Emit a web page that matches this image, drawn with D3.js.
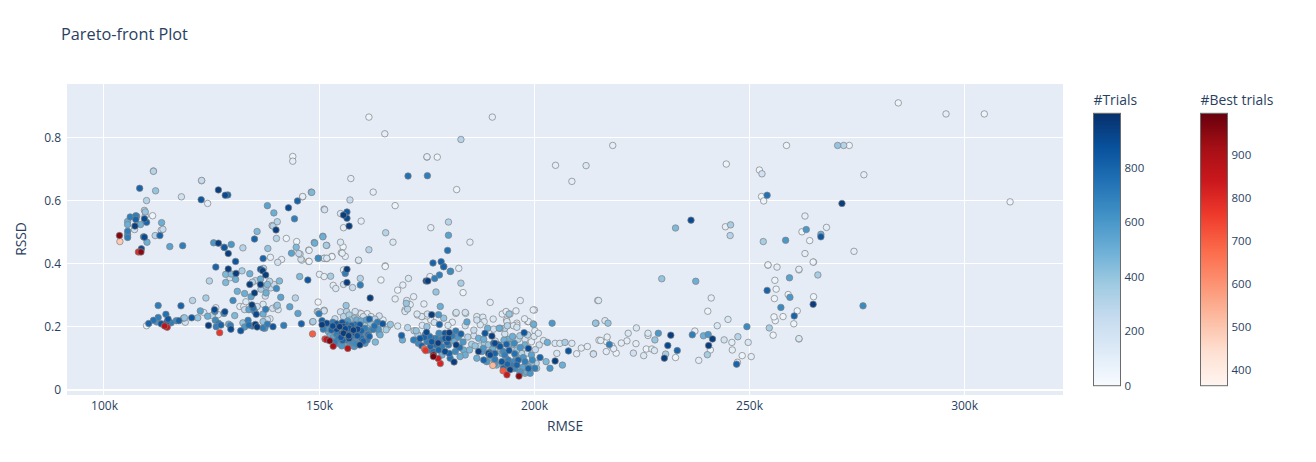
<!DOCTYPE html>
<html><head><meta charset="utf-8">
<script src="https://cdn.jsdelivr.net/npm/d3@7/dist/d3.min.js"></script>
<style>html,body{margin:0;padding:0;background:#fff}svg{display:block}text{font-family:"Open Sans",Verdana,sans-serif;fill:#2a3f5f}</style>
</head><body><svg id="c" width="1316" height="462"></svg>
<script>
// [RMSE in thousands, RSSD, trial number]
const leftCluster=[[105.5,.535,500],[105.5,.525,500],[106.1,.549,700],[107.4,.553,700],[107.6,.551,600],[107.4,.541,800],[107.2,.520,950],[105.5,.504,700],[105.5,.493,650],[105.5,.484,700],[107.1,.509,200],[108.5,.525,500],[109.4,.570,300],[109.6,.565,400],[109.6,.553,200],[109.4,.543,900],[109.9,.532,800],[111.3,.553,50],[113.4,.531,500],[113.7,.510,250],[113.3,.507,200],[111.9,.490,300],[113.0,.490,800],[109.4,.485,900],[109.2,.486,700],[110.0,.469,500],[115.3,.455,550],[118.3,.458,700],[108.7,.448,900],[108.3,.640,800],[111.5,.694,300],[111.5,.695,100],[112,.632,400],[109.9,.601,300],[118,.613,200],[122.7,.665,250],[122.7,.664,100],[122.6,.604,850],[124.1,.592,100],[126.6,.635,950],[128.2,.618,900],[128.8,.619,800]];
const midScatter=[[125.5,.467,600],[126.6,.466,950],[127.9,.453,500],[128,.452,850],[129.6,.462,600],[128.9,.433,950],[132.3,.451,300],[130.6,.408,850],[126,.390,800],[128.9,.384,950],[130.7,.370,950],[128.3,.367,450],[129.6,.368,450],[129.3,.356,200],[130.6,.351,500],[128.3,.341,450],[124.5,.346,300],[132.1,.378,350],[133.9,.369,500],[135.2,.347,300],[136.4,.352,500],[133.9,.335,950],[136.4,.335,950],[138,.335,450],[137.7,.329,400],[138.8,.324,250],[140.1,.322,650],[137.7,.308,500],[135,.308,950],[134.2,.296,550],[137.5,.298,200],[141.1,.294,550],[131,.313,500],[132.7,.306,500],[130,.284,650],[123.7,.292,350],[120.6,.284,300],[112.6,.268,700],[117.9,.267,800],[136.4,.383,850],[137.1,.386,300],[136.9,.378,950],[137.6,.365,950],[137,.417,800],[140.8,.346,450],[135.6,.503,450],[135,.479,800],[138.1,.449,400],[139.1,.522,200],[139.3,.520,300],[140.3,.534,300],[139.5,.562,500],[138,.585,550],[140,.508,950],[140.1,.481,300],[138.7,.421,100],[140.4,.405,200],[141.3,.414,100],[142.4,.481,50],[144.8,.471,50],[144.7,.453,450],[143.6,.434,550],[145.3,.433,250],[145.8,.415,200],[147.6,.444,50],[147.6,.408,50],[148.9,.468,500],[149.8,.418,650],[150.9,.488,500],[151.2,.574,200],[151.7,.459,350],[151.2,.418,150],[151.8,.418,150],[153,.424,50],[142.9,.578,900],[144.3,.543,700],[145,.600,800],[146.2,.614,100],[148.2,.628,400],[143.9,.741,50],[143.9,.726,100],[145.5,.360,450],[147.4,.349,850],[149.8,.279,50],[149.6,.249,150],[151.2,.253,150],[143.2,.264,550],[140.3,.269,400],[140.1,.266,250],[145.1,.243,550],[150.1,.367,100],[151.2,.360,100],[152.7,.361,350],[153.3,.332,100],[153.9,.322,150],[136.5,.32,350],[138.5,.345,300],[139.5,.335,250],[137,.272,150],[139.2,.259,200],[134.5,.342,300],[133,.280,150],[135.6,.265,200],[140.5,.255,150],[144.5,.292,300]];
const lowerBand=[[109.9,.204,50],[110.4,.211,800],[111.5,.221,750],[112.6,.230,700],[112.3,.216,600],[113.3,.210,850],[114.4,.240,750],[114.9,.225,850],[114.6,.215,800],[115.6,.213,700],[116.8,.220,650],[117.4,.220,800],[118.7,.229,400],[118.5,.228,300],[118.9,.215,200],[120.4,.229,850],[121.8,.229,400],[122.4,.251,550],[123.2,.246,150],[124.1,.234,500],[125.1,.236,300],[126.6,.239,150],[126,.261,100],[125.7,.255,900],[125.8,.249,650],[128.1,.248,900],[127.9,.243,650],[130.4,.236,450],[125.9,.221,650],[126.6,.212,700],[127.2,.206,800],[126.1,.201,700],[124.3,.205,950],[129.4,.205,700],[129.5,.193,900],[131.8,.188,850],[129,.209,500],[132.3,.213,400],[133.5,.221,700],[132.7,.200,600],[133.7,.206,750],[134.5,.203,700],[135.2,.208,950],[135.6,.200,950],[137,.217,400],[138,.223,200],[138.6,.226,150],[137,.197,700],[137.4,.196,600],[138,.209,700],[139.3,.201,850],[141.8,.205,700],[145.9,.210,800],[131.6,.265,100],[132.5,.265,100],[132.7,.255,250],[133.7,.255,550],[134.7,.260,750],[134.4,.270,950],[135,.250,650],[135.4,.240,900],[137,.241,500],[137.6,.256,700],[148.5,.216,350]];
const cluster150=[[150,.242,700],[151.2,.251,200],[149.8,.248,300],[148.6,.217,350],[150.7,.220,800],[151.8,.212,900],[150.7,.207,950],[151,.193,700],[151.8,.196,600],[152.2,.185,500],[153.7,.226,250],[155,.248,200],[156.3,.268,400],[156.4,.249,300],[158.2,.228,400],[158.4,.249,200],[159.8,.242,150],[161.2,.242,100],[161.7,.225,800],[160.7,.212,300],[162.2,.210,300],[163.6,.215,700],[164.8,.210,850],[163.8,.193,600],[164,.180,500],[165.6,.191,350],[163.1,.152,450],[164.2,.175,500],[168.3,.203,150],[169.2,.173,800],[169.4,.159,500],[170.6,.198,300],[170,.254,150],[171.2,.271,100],[170.4,.284,150],[154.1,.210,850],[154.1,.193,900],[155.4,.214,850],[155.7,.201,900],[156.4,.207,750],[157.6,.205,800],[158.4,.207,750],[159.5,.207,850],[160.7,.196,700],[161.7,.189,650],[161.9,.212,400],[154.1,.177,700],[155.3,.180,800],[155.7,.180,950],[156.8,.183,800],[157.6,.172,700],[158.4,.180,850],[159.5,.175,750],[160.7,.180,600],[161.7,.170,800],[154.5,.164,700],[155.5,.157,800],[156.4,.159,700],[157.6,.154,650],[158.8,.161,600],[159.9,.164,750],[161.2,.159,700],[159.5,.143,950],[160.7,.148,600],[154.5,.148,600],[156,.148,500],[157.2,.146,600],[158.4,.148,650],[153.3,.166,550],[152.6,.172,500],[153.7,.152,700],[155.3,.140,600],[158.8,.222,500],[157.2,.222,400],[155.7,.233,300],[158.1,.203,700],[160.3,.233,200],[159.5,.244,100],[154.8,.201,950],[156.1,.194,900],[157,.196,850],[158,.190,950],[159,.193,900],[159.9,.188,800],[156.9,.172,950],[158.9,.172,850],[155.1,.167,850],[157,.163,900],[160.3,.155,800],[158.2,.138,600],[161.4,.175,750],[162.6,.192,700],[162.9,.203,750],[153.2,.203,900],[152.9,.190,800],[153.2,.215,700],[156.7,.218,600],[159.8,.219,500],[161,.222,550],[163,.225,300],[164,.235,200],[166,.200,250],[166.6,.208,400],[157,.238,350],[162.1,.233,150],[164.9,.222,100]];
const cluster175=[[176.2,.239,950],[177.8,.239,600],[179,.228,400],[175.2,.241,200],[173.9,.233,150],[172.9,.238,100],[181.9,.246,200],[184,.246,200],[176.8,.214,200],[178,.208,800],[184.4,.216,550],[186.7,.222,200],[186.7,.233,150],[188.1,.231,150],[188.4,.217,150],[175.1,.201,400],[172.1,.188,300],[172.6,.188,400],[174.7,.175,700],[176.2,.164,750],[172.7,.157,600],[172,.159,700],[173.1,.148,650],[173.9,.140,800],[175.1,.153,700],[176.2,.153,850],[177.2,.164,700],[178.2,.159,500],[179.3,.180,850],[180.3,.182,950],[181.8,.187,700],[179.3,.164,850],[180.1,.164,900],[178.6,.161,700],[182.4,.167,600],[175.9,.138,800],[177.2,.143,750],[178.6,.138,700],[180.1,.143,700],[181.9,.143,950],[183.6,.127,500],[184,.111,500],[181.7,.122,650],[180.3,.116,800],[180.5,.101,750],[179.3,.122,900],[177.8,.127,800],[178.6,.111,500],[182.8,.106,500],[181.4,.089,950],[176.6,.122,750],[175.5,.127,700],[185.5,.145,350],[186.3,.140,400],[187.1,.164,500],[188.3,.161,500],[189.2,.196,500],[188.6,.180,850],[190.2,.171,950],[190.6,.148,800],[191.7,.143,700],[189.4,.143,400],[187.1,.122,950],[187.9,.122,600],[186.7,.101,500],[189.4,.116,900],[188.3,.095,800],[189.8,.106,500],[192.1,.132,400],[192.9,.122,650],[174.5,.167,800],[173.5,.163,850],[175.7,.170,750],[177.9,.180,650],[181,.172,700],[183,.178,800],[183.5,.152,600],[182.7,.135,750],[185,.127,450],[184.6,.168,300],[186,.190,250],[187.5,.207,150],[190.6,.193,200],[175,.183,900],[177.7,.149,950],[179.8,.151,800],[181.5,.155,500],[173,.175,350],[174,.205,150],[176,.222,100],[180,.205,150],[181,.215,100]];
const cluster195=[[192.6,.241,100],[194.2,.241,400],[195.8,.251,100],[199.8,.254,100],[204.2,.212,600],[193.2,.196,300],[193.8,.204,300],[195.2,.204,150],[196,.212,100],[196,.199,200],[198.7,.217,100],[199.8,.210,100],[200.2,.188,100],[197.7,.182,850],[193.2,.178,200],[194,.161,500],[193.6,.145,800],[194.2,.145,500],[194.8,.143,400],[195.6,.157,200],[196.3,.161,300],[197.9,.161,200],[197.9,.143,500],[199.4,.153,100],[202.2,.157,150],[203.1,.151,500],[204.9,.148,150],[206,.148,150],[207.2,.151,350],[194.2,.125,850],[193.2,.111,700],[196,.127,400],[197.5,.132,300],[198.7,.132,900],[197.1,.116,300],[199.4,.111,550],[194,.095,700],[195.2,.090,650],[196.3,.095,800],[197.9,.090,700],[198.7,.074,500],[196,.079,800],[194.8,.079,700],[192.9,.069,800],[194.4,.064,950],[196.7,.058,600],[197.9,.053,500],[199.1,.053,600],[200.2,.069,700],[199.4,.085,400],[201.4,.103,800],[202.8,.090,450],[204.9,.092,950],[203.7,.069,600],[205.3,.116,150],[208,.124,850],[200.6,.069,300],[198.3,.058,500],[192.9,.074,450],[190.9,.148,900],[191.7,.143,800],[190.9,.116,800],[189.8,.111,900],[190.9,.097,700],[191.3,.079,500],[192.5,.090,850],[192.1,.138,850],[192.5,.116,500],[191.9,.196,500],[189.8,.101,500],[189,.090,600],[188.2,.132,600],[189.6,.119,800],[206.6,.079,500],[208.8,.148,150],[209.9,.115,100],[211,.133,100],[212.4,.138,100],[213.8,.115,150],[215.1,.158,100],[195,.170,500],[196.7,.172,350],[198.5,.175,300],[200,.170,150],[201,.180,150],[193,.158,500],[195.4,.148,650],[196.8,.135,600],[195.5,.115,750],[193.5,.100,500],[195.8,.108,500],[197.5,.103,600],[199.6,.095,650],[200.5,.085,300],[198.4,.117,200],[200.3,.128,250],[201.2,.143,200],[198.7,.068,800],[197.4,.072,550],[195.5,.068,650],[193.8,.082,800],[190.8,.083,600],[191,.155,200],[188.5,.148,350],[190.4,.130,500],[187.5,.140,300],[186,.172,200],[193.6,.222,150],[197.8,.226,100],[190.5,.225,150]];
const upperMiddle=[[165.4,.394,50],[161.9,.292,950],[167.7,.289,100],[168.3,.317,50],[169.5,.333,100],[170.8,.354,150],[172,.296,100],[170.3,.275,400],[170.6,.257,300],[170,.249,150],[172.8,.241,150],[174.4,.273,100],[174,.233,100],[175.1,.235,100],[178.2,.265,500],[177.2,.311,400],[183,.339,350],[183.5,.309,50],[180.5,.376,600],[179,.392,700],[178,.365,700],[176.9,.354,700],[175.8,.360,100],[175.3,.346,950],[174.9,.346,900],[182.5,.386,100],[176.5,.403,800],[181.8,.243,50],[184.1,.243,100],[184,.204,200],[189.8,.278,100],[196.8,.284,100],[193.5,.249,100],[194.4,.241,100],[200.1,.254,50],[198.5,.217,50],[199.9,.208,500],[214.4,.212,350],[214.8,.284,100],[193.7,.217,150],[196,.206,100],[192.1,.196,400],[194,.206,100],[155.7,.335,200],[156.5,.341,950],[157.8,.325,250],[159.6,.333,700],[159.6,.354,300],[164.4,.349,50],[156.1,.370,700],[161.6,.866,50],[165.3,.813,100],[190.3,.866,100],[183,.795,300],[175.1,.739,100],[175.1,.740,100],[177.5,.739,50],[170.7,.679,750],[175.2,.680,700],[182,.636,50],[157.4,.671,100],[162.6,.628,100],[167.7,.585,50],[148.3,.627,450],[146.2,.613,50],[157.2,.603,250],[151.3,.572,200],[155,.560,150],[156.5,.565,850],[155.7,.555,950],[156.5,.545,900],[157,.520,950],[155.7,.515,100],[159.8,.536,100],[176,.515,100],[180.1,.533,300],[180.1,.491,550],[179.9,.443,750],[185.1,.469,100],[165.5,.499,300],[167.2,.469,150],[161.6,.445,300],[150.9,.486,500],[149,.466,500],[151.8,.459,300],[155,.469,150],[155.6,.454,50],[147.7,.443,100],[155.2,.436,100],[156.1,.424,100],[155.4,.434,100],[153,.423,50],[151.8,.417,50],[151.2,.418,50],[149.9,.418,500],[159.2,.411,100],[159.2,.412,150],[147.7,.408,50],[146,.412,50],[145.6,.431,200],[165.4,.392,50],[156.5,.383,950],[155.7,.381,100],[178.4,.407,800],[179,.391,800],[180.6,.377,650]];
const rightSide=[[218.3,.776,100],[205,.713,100],[212.1,.712,150],[208.8,.662,100],[244.7,.717,50],[252.4,.698,50],[253,.686,200],[258.7,.776,50],[270.6,.776,400],[272,.776,300],[273.3,.776,50],[252.9,.614,50],[254.2,.618,750],[253.4,.600,50],[271.6,.592,950],[263,.552,100],[236.5,.539,900],[232.9,.514,450],[244.5,.518,100],[245.7,.524,350],[245.6,.490,300],[262.3,.502,50],[263.3,.509,600],[268,.516,100],[266.7,.494,500],[266.7,.486,850],[264.1,.474,50],[258.5,.475,600],[253.3,.471,350],[274.4,.440,100],[263,.433,100],[265,.406,50],[254.4,.396,50],[256.5,.390,100],[261.6,.383,100],[284.7,.911,50],[295.8,.876,100],[304.7,.876,50],[310.7,.597,50],[276.7,.683,100],[229.7,.353,400],[237.6,.345,500],[215,.284,150],[241.2,.292,100],[240.4,.250,50],[214.3,.212,400],[216.5,.220,150],[217.2,.212,400],[223.8,.197,150],[221.9,.180,150],[226.5,.180,150],[226.5,.173,100],[228.9,.180,600],[231.8,.174,950],[228.1,.159,400],[236.8,.175,700],[237.4,.187,100],[239.4,.172,500],[240.5,.176,600],[241.5,.162,950],[242.6,.204,150],[245.1,.224,150],[244.2,.159,200],[246,.151,100],[247.4,.169,300],[249.8,.151,150],[249.5,.201,650],[254.7,.197,350],[255.6,.174,50],[261.6,.162,50],[261.6,.163,150],[260.4,.210,50],[256.1,.220,50],[255.8,.232,50],[257.9,.233,50],[261.2,.251,50],[260.5,.235,800],[257.4,.262,650],[264.9,.272,950],[259.5,.294,600],[259.1,.303,50],[265,.296,50],[254.2,.316,800],[255.9,.290,50],[256.3,.320,50],[256,.348,50],[259.4,.356,550],[266,.365,350],[261.6,.381,50],[254.4,.397,50],[264.9,.406,50],[276.5,.267,650],[217,.168,100],[215.5,.157,100],[216.9,.153,50],[221.6,.156,100],[220.3,.149,100],[223.7,.147,100],[217.5,.144,700],[218.1,.140,100],[218.5,.131,100],[219.1,.117,50],[216.8,.122,100],[213.8,.114,200],[223.1,.117,200],[225.5,.109,150],[226.1,.130,50],[227.4,.130,100],[228,.125,150],[230.6,.114,350],[231.1,.141,900],[233.3,.125,800],[230.3,.101,950],[232.9,.103,50],[240.6,.141,950],[241,.127,50],[240.3,.112,350],[238.3,.094,100],[246.1,.127,100],[248.4,.109,50],[250.5,.106,100],[247.1,.082,800],[247.3,.088,100]];
const bestTrials=[[103.6,.490,960],[103.7,.471,490],[108,.438,800],[108.6,.438,950],[114.1,.203,870],[114.7,.199,840],[126.9,.182,770],[148.5,.178,700],[151.4,.162,780],[151.7,.160,850],[152.5,.156,960],[153.3,.139,900],[156.7,.132,880],[174.5,.131,690],[174.8,.125,780],[176.6,.111,960],[176.6,.106,980],[177.7,.100,840],[178.2,.084,810],[190.4,.078,530],[192.8,.061,710],[193.7,.048,840],[196.5,.044,950]];
const blueStops=["rgb(247,251,255)","rgb(222,235,247)","rgb(198,219,239)","rgb(158,202,225)","rgb(107,174,214)","rgb(66,146,198)","rgb(33,113,181)","rgb(8,81,156)","rgb(8,48,107)"];
const redStops=["rgb(255,245,240)","rgb(254,224,210)","rgb(252,187,161)","rgb(252,146,114)","rgb(251,106,74)","rgb(239,59,44)","rgb(203,24,29)","rgb(165,15,21)","rgb(103,0,13)"];
const xTicks=[100,150,200,250,300];
const yTicks=[0,.2,.4,.6,.8];
const trialDomain=[0,999], bestDomain=[364,996];
const trialTicks=[0,200,400,600,800], bestTicks=[400,500,600,700,800,900];

const svg=d3.select("#c");
const W={l:67,r:1063,t:84,b:395};
const x=d3.scaleLinear().domain([91.4,323]).range([W.l,W.r]);
const y=d3.scaleLinear().domain([-.0159,.971]).range([W.b,W.t]);
const ramp=(stops,dom)=>d3.scaleLinear().domain(stops.map((_,i)=>dom[0]+(dom[1]-dom[0])*i/(stops.length-1))).range(stops).interpolate(d3.interpolateRgb).clamp(true);
const cBlue=ramp(blueStops,trialDomain), cRed=ramp(redStops,bestDomain);

svg.append("rect").attr("x",W.l).attr("y",W.t).attr("width",W.r-W.l).attr("height",W.b-W.t).attr("fill","#E5ECF6");
svg.append("g").attr("shape-rendering","crispEdges").selectAll("line").data(xTicks).join("line").attr("x1",d=>x(d)).attr("x2",d=>x(d)).attr("y1",W.t).attr("y2",W.b).attr("stroke","#fff").attr("stroke-width",1);
svg.append("g").attr("shape-rendering","crispEdges").selectAll("line").data(yTicks).join("line").attr("x1",W.l).attr("x2",W.r).attr("y1",d=>y(d)).attr("y2",d=>y(d)).attr("stroke","#fff").attr("stroke-width",d=>d===0?2:1);

const ax=svg.append("g").attr("transform",`translate(0,${W.b})`).call(d3.axisBottom(x).tickValues(xTicks).tickFormat(d=>d+"k").tickSize(0).tickPadding(6));
const ay=svg.append("g").attr("transform",`translate(${W.l},0)`).call(d3.axisLeft(y).tickValues(yTicks).tickFormat(d=>d===0?"0":d3.format(".1f")(d)).tickSize(0).tickPadding(6));
[ax,ay].forEach(a=>{a.select(".domain").remove();a.selectAll("text").attr("font-size",12).style("font-family",'"Open Sans",Verdana,sans-serif').style("fill","#2a3f5f");});

const all=[].concat(leftCluster,midScatter,lowerBand,cluster150,cluster175,cluster195,upperMiddle,rightSide).sort((a,b)=>a[2]-b[2]);
const dot=(cls,data,col)=>svg.append("g").selectAll("circle").data(data).join("circle").attr("class",cls)
  .attr("cx",d=>x(d[0])).attr("cy",d=>y(d[1])).attr("r",3.25).attr("fill",d=>col(d[2])).attr("stroke","#808080").attr("stroke-opacity",.7).attr("stroke-width",1);
dot("t",all,cBlue);
dot("b",bestTrials.slice().sort((a,b)=>a[2]-b[2]),cRed);

svg.append("text").attr("x",61).attr("y",39.5).attr("font-size",16.3).text("Pareto-front Plot");
svg.append("text").attr("x",565).attr("y",431).attr("text-anchor","middle").attr("font-size",13.8).text("RMSE");
svg.append("text").attr("transform","translate(26,239) rotate(-90)").attr("text-anchor","middle").attr("font-size",13.8).text("RSSD");

const defs=svg.append("defs");
function bar(id,title,left,stops,dom,ticks){
  const s=d3.scaleLinear().domain(dom).range([385.7,113.3]);
  const g=defs.append("linearGradient").attr("id",id).attr("x1",0).attr("x2",0).attr("y1",1).attr("y2",0);
  stops.forEach((c,i)=>g.append("stop").attr("offset",i/(stops.length-1)).attr("stop-color",c));
  svg.append("rect").attr("x",left).attr("y",s(dom[1])).attr("width",27).attr("height",s(dom[0])-s(dom[1])).attr("fill",`url(#${id})`).attr("stroke","#6b6b6b").attr("stroke-width",1);
  const a=svg.append("g").attr("transform",`translate(${left+27},0)`).call(d3.axisRight(s).tickValues(ticks).tickFormat(d3.format("d")).tickSize(0).tickPadding(4));
  a.select(".domain").remove();
  a.selectAll("text").attr("font-size",11.5).style("font-family",'"Open Sans",Verdana,sans-serif').style("fill","#2a3f5f");
  svg.append("text").attr("x",left).attr("y",105).attr("font-size",13.9).text(title);
}
bar("gT","#Trials",1093.5,blueStops,trialDomain,trialTicks);
bar("gB","#Best trials",1200.5,redStops,bestDomain,bestTicks);
</script></body></html>
